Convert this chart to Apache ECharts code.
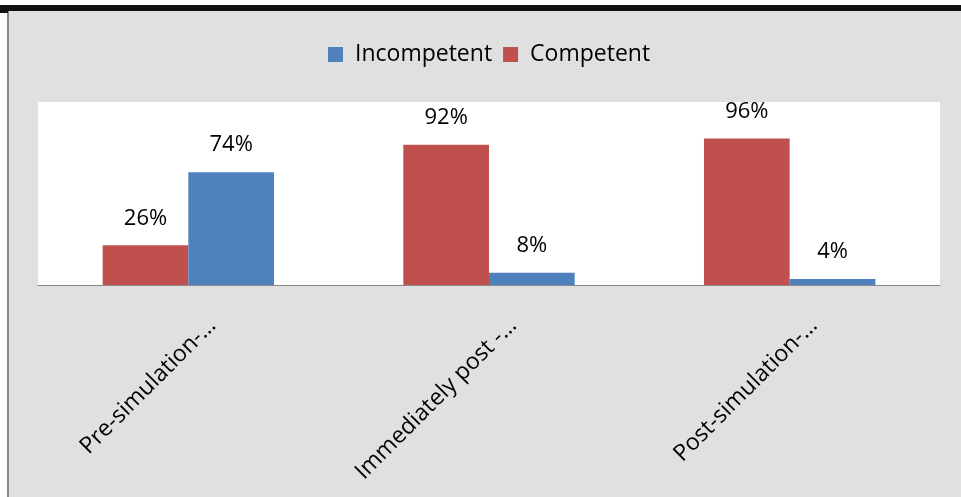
<!DOCTYPE html>
<html>
<head>
<meta charset="utf-8">
<script src="https://cdn.jsdelivr.net/npm/echarts@6/dist/echarts.min.js"></script>
<style>
  html, body { margin: 0; padding: 0; background: #ffffff; }
  #wrap { position: relative; width: 961px; height: 497px; overflow: hidden; }
  #bg { position: absolute; left: 9px; top: 11px; right: 0; bottom: 0; background: #e0e0e0; }
  #topband { position: absolute; left: 0; top: 5px; width: 961px; height: 6px; background: #111111; }
  #leftline { position: absolute; left: 7px; top: 11px; width: 2px; bottom: 0; background: #888888; }
  #corner { position: absolute; left: 0; top: 11px; width: 8px; height: 2px; background: #111111; }
  #chart { position: absolute; left: 0; top: 0; width: 961px; height: 497px; }
</style>
</head>
<body>
<div id="wrap">
  <div id="bg"></div>
  <div id="topband"></div>
  <div id="leftline"></div>
  <div id="corner"></div>
  <div id="chart"></div>
</div>
<script>
const categories = ['Pre-simulation-\u2026', 'Immediately post -\u2026', 'Post-simulation-\u2026'];
const competent = [26, 92, 96];
const incompetent = [74, 8, 4];
const legendOrder = ['Incompetent', 'Competent'];

const FONT = '"Open Sans", "DejaVu Sans", sans-serif';
const chart = echarts.init(document.getElementById('chart'), null, { renderer: 'canvas' });
const labelStyle = {
  show: true,
  position: 'top',
  distance: 16,
  formatter: p => p.value + '%',
  color: '#000000',
  fontFamily: FONT,
  fontSize: 22
};
chart.setOption({
  backgroundColor: 'transparent',
  animation: false,
  legend: {
    data: legendOrder,
    left: 323,
    top: 38,
    itemWidth: 15,
    itemHeight: 15,
    itemGap: 11,
    icon: 'rect',
    textStyle: { fontFamily: FONT, fontSize: 23, color: '#000000', padding: [0, 0, 0, 7] }
  },
  grid: {
    left: 38, right: 21, top: 102, bottom: 212,
    show: true, backgroundColor: '#ffffff', borderWidth: 0
  },
  xAxis: {
    type: 'category',
    data: categories,
    axisLine: { lineStyle: { color: '#888888', width: 1 } },
    axisTick: { show: false },
    axisLabel: {
      rotate: 45,
      interval: 0,
      margin: 61,
      padding: [0, -34, 0, 0],
      color: '#000000',
      fontFamily: FONT,
      fontSize: 23
    }
  },
  yAxis: {
    type: 'value',
    min: 0,
    max: 120,
    show: false,
    splitLine: { show: false }
  },
  series: [
    {
      name: 'Competent',
      type: 'bar',
      data: competent,
      barGap: '0%',
      barCategoryGap: '43%',
      itemStyle: { color: '#C0504D' },
      label: labelStyle
    },
    {
      name: 'Incompetent',
      type: 'bar',
      data: incompetent,
      itemStyle: { color: '#4F81BD' },
      label: labelStyle
    }
  ]
});
</script>
</body>
</html>
